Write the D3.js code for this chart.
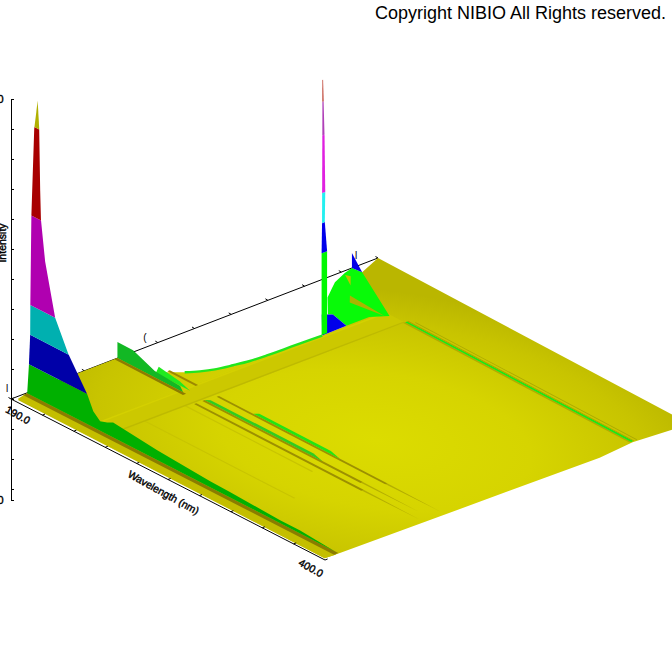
<!DOCTYPE html>
<html><head><meta charset="utf-8">
<style>html,body{margin:0;padding:0;background:#fff}svg{display:block}text{font-family:"Liberation Sans",Arial,sans-serif;fill:#000}</style>
<script src="https://cdn.jsdelivr.net/npm/d3@7/dist/d3.min.js"></script>
</head><body><div id="c"></div>
<script>
// ---------- data (wavelength nm, excitation nm, intensity in thousands) ----------
const wavelengthTicks = [190,211,232,253,274,295,316,337,358,379,400];
const excitationTicks = [200,240,280,320,360,400,440,480,520,560,600];
const intensityTicks  = [-3,-2,-1,0,1,2,3,4,5,6,7,8,9,10];
const intensityEnds   = [-3.367,10];

// surface outline
const plateW = [192.8,190,190,211.7,219.7,223.3,226.1,228.2,229.8,230.5,230.8,231,231.4,231,196,190,400,397.6,400,399,398.5];
const plateE = [203,218,316,323.8,341,351.8,363.6,380,395.7,413,432,448,472,499,573,600,600,541,501,218,202];
// rim of the masked region
const rimW = [219.7,223.3,226.1,228.2,229.8,230.5,230.8,231,231.4];
const rimE = [341,351.8,363.6,380,395.7,413,432,448,472];

// main emission sheet
const mainE = 217;
const mainW = [190.4,191.5,192.4,192.5,193.2,195.1,197.4,198.4,199.1,199.6,202.4,209.1,217.8,230.5,234.6,239.2,243.9,247.9,277.4,312.8,326,359.6,373,396.4];
const mainZ = [0,.93,2,3,6,8.93,9.93,9.07,6.97,6.03,4.7,3,2.03,1,.53,.32,.4,.5,.33,.2,.18,.1,.1,0];
const mainEdges  = [-1,1,2,3,6,9,11];
const mainColors = ["#00b000","#0000a8","#00b0b0","#b000b0","#a80000","#b0b000"];

// sheet at excitation 316
const secondE = 316;
const secondW = [190,200.5,215.2,232,234];
const secondZ = [.54,.53,.21,.15,0];
const secondFootW = [190,236];
// brighter sheet behind
const thirdE = 322;
const thirdW = [212,214,228,235];
const thirdZ = [0,.26,.14,0];

// thin ridges along the wavelength direction
const ridgeE      = [334,320,311];
const ridgeStart  = [247,246,246];
const ridgeDark   = [360,352,358];
const ridgeEnd    = [396,390,396];
const ridgeGreenA = [270,246,0];
const ridgeGreenB = [328,325,0];
const ridgeGreenC = ["#22e414","#30cc20",""];
const minorW = [214,233];
const minorE = 334;

// faint ridges
const faintE = [256,300];
const faintA = [240,240];
const faintB = [345,330];

// far long ridge
const farE = 541.6, farA = 245, farB = 397;

// cross band
const crossA = 232, crossB = 245, crossE1 = 218, crossE2 = 540;

// narrow spike
const spikeW = 231, spikeE = 472;
const spikeDe = [0,0,.5,.8,.9,1.6,2.2,3.2,4,3.5,6,6];
const spikeZ  = [0,2.73,3.73,6.7,8.5,8.5,7.77,6.6,4.73,3.73,2.73,0];
const spikeEdges  = [0,2.73,3.73,4.73,6.65,7.77,9];
const spikeColors = ["#00f800","#0000ea","#22f0f0","#e020e0","#b040b8","#b83020"];

// flat facets beside the spike
const footBlueW=[215.7,218.9,231,231.4], footBlueE=[497,504,499,472];
const backGreenW=[204.8,199.2,195.6,191.7,190,196,236,231,231,218.9,217.4];
const backGreenE=[521,534.9,544,561,571.6,573,538,524,499,504,501];
const backStripeW=[209.6,214.8,234.5], backStripeE=[537.6,529,535];
const backNotchW=[193.2,195.7,202.4], backNotchE=[559,561,550];
const tipW=[190,196,190], tipE=[571.6,573,571.6], tipZ=[.5,0,0];

const titleText = "Copyright NIBIO All Rights reserved.";
const xLabel = "Wavelength (nm)", zLabel = "Intensity";
const xEndLabels = ["190.0","400.0"];
const zEndLabels = ["10000.0","-3367.0"];

// ---------- projection ----------
const W=672,H=672;
const svg=d3.select("#c").append("svg").attr("width",W).attr("height",H);
const uS=d3.scaleLinear().domain([190,400]).range([0,1]);
const vS=d3.scaleLinear().domain([200,600]).range([0,1]);
const zAxisS=d3.scaleLinear().domain([-3.367,10]).range([500,99]);
const hS=v=>zAxisS(0)-zAxisS(v);
const O=[11,399],Wc=[325,560],Vc=[378,258],Fc=[690,424];
function P(w,e,z=0){
  const u=uS(w),v=vS(e);
  const x=(1-u)*(1-v)*O[0]+u*(1-v)*Wc[0]+(1-u)*v*Vc[0]+u*v*Fc[0];
  const y=(1-u)*(1-v)*O[1]+u*(1-v)*Wc[1]+(1-u)*v*Vc[1]+u*v*Fc[1];
  return [x,y-hS(z)];
}
const line=d3.line();
const poly=pts=>line(pts)+"Z";
function fill(g,pts,c){return g.append("path").attr("d",poly(pts)).attr("fill",c);}
function clipZ(pts,lo,hi){ // pts [t,z]
  const clip=(arr,inside,cross)=>{const o=[];arr.forEach((p,i)=>{const q=arr[(i+1)%arr.length];
    const a=inside(p),b=inside(q);if(a)o.push(p);if(a!==b)o.push(cross(p,q));});return o;};
  const at=l=>(p,q)=>[p[0]+(q[0]-p[0])*(l-p[1])/(q[1]-p[1]),l];
  let r=clip(pts,p=>p[1]>=lo,at(lo));
  if(r.length) r=clip(r,p=>p[1]<=hi,at(hi));
  return r;
}
function banded(g,pts,edges,colors,toXY){
  colors.forEach((c,i)=>{
    const r=clipZ(pts,edges[i],edges[i+1]);
    if(r.length>2) fill(g,r.map(toXY),c);
  });
}
function strip(g,w1,w2,e1,e2,c){fill(g,[P(w1,e1),P(w2,e1),P(w2,e2),P(w1,e2)],c);}
function sheet(g,ws,zs,e,c){fill(g,ws.map((w,i)=>P(w,e,zs[i])).concat([P(ws[ws.length-1],e),P(ws[0],e)]),c);}

// gradient
const defs=svg.append("defs");
const grad=defs.append("radialGradient").attr("id","plate").attr("gradientUnits","userSpaceOnUse")
  .attr("cx",0).attr("cy",0).attr("r",1).attr("gradientTransform","translate(375,440) rotate(8) scale(350,150)");
[[0,"#dcdc00"],[.45,"#d6d400"],[.8,"#c8c400"],[1,"#bab600"]].forEach(s=>grad.append("stop").attr("offset",s[0]).attr("stop-color",s[1]));

// ---------- back axis (behind the surface) ----------
const axesBack=svg.append("g").attr("stroke","#000").attr("stroke-width",1).attr("fill","none");
axesBack.append("path").attr("d",line([P(190,200),P(190,600)]));
excitationTicks.forEach(e=>{const a=P(190,e);axesBack.append("path").attr("d",line([a,[a[0]-2.5,a[1]-1.5]]));});

// ---------- surface ----------
const s=svg.append("g");
fill(s,plateW.map((w,i)=>P(w,plateE[i])),"url(#plate)");
// front strip
fill(s,[P(192,204),P(398.5,202),P(399,214),P(190.6,214)],"#c4be00");
// faint ridges
faintE.forEach((e,i)=>strip(s,faintA[i],faintB[i],e,e+1.6,"#c8c400"));
// cross band
strip(s,crossA,crossB,crossE1,crossE2,"#ccc800");
strip(s,crossA,crossA+1.2,crossE1,crossE2,"#d4d000");
strip(s,crossB-1,crossB,crossE1,crossE2,"#bebA00");
// thin ridges
ridgeE.forEach((e,i)=>{
  fill(s,[P(ridgeDark[i],e-2.2),P(ridgeEnd[i],e-.9),P(ridgeDark[i],e)],"#b4ae00");
  strip(s,ridgeStart[i],ridgeDark[i],e-2.6,e,"#9c9000");
  if(ridgeGreenA[i]){
    const a=ridgeGreenA[i],b=ridgeGreenB[i];
    sheet(s,[a,a+4,b-6,b],[0,.1,.1,0],e,ridgeGreenC[i]);
  }
});
// far ridge
strip(s,farA+3,farB,farE+4.6,farE+5.6,"#aca800");
strip(s,farA,farB,farE-3.2,farE-1.2,"#b0ac00");
strip(s,farA,farB,farE-1.2,farE+1.2,"#18e818");
strip(s,farA,farB,farE+1.2,farE+2.4,"#a8a400");

// facets at the back
const pairs=(a,b)=>a.map((w,i)=>P(w,b[i]));
fill(s,pairs(backGreenW,backGreenE),"#08fa08");
fill(s,pairs(backStripeW,backStripeE),"#aab400");
fill(s,pairs(backNotchW,backNotchE),"#c0c000");
fill(s,tipW.map((w,i)=>P(w,tipE[i],tipZ[i])),"#0000e8");
fill(s,pairs(footBlueW,footBlueE),"#0000ea");
// rim of the masked area
s.append("path").attr("d",d3.line().curve(d3.curveCatmullRom)(rimW.map((w,i)=>P(w,rimE[i])))).attr("fill","none").attr("stroke","#22e61e").attr("stroke-width",2.4);

// narrow spike
banded(s,spikeDe.map((d,i)=>[spikeE+d,spikeZ[i]]),spikeEdges,spikeColors,p=>P(spikeW,p[0],p[1]));

// second group
strip(s,minorW[0],minorW[1],minorE-2.6,minorE,"#9c8800");
sheet(s,thirdW,thirdZ,thirdE,"#20ea20");
sheet(s,secondW,secondZ,secondE,"#12b824");
strip(s,secondFootW[0],secondFootW[1],secondE-3.4,secondE,"#8c7c00");

// main sheet
strip(s,190.4,398.5,mainE-4.6,mainE,"#8a7c00");
banded(s,mainW.map((w,i)=>[w,mainZ[i]]),mainEdges,mainColors,p=>P(p[0],mainE,p[1]));

// ---------- front axes ----------
const ax=svg.append("g").attr("stroke","#000").attr("stroke-width",1).attr("fill","none");
ax.append("path").attr("d",line([P(190,200),P(400,200)]));
wavelengthTicks.forEach(w=>{const a=P(w,200);ax.append("path").attr("d",line([a,[a[0]+2.6,a[1]-1]]));});
svg.append("g").attr("transform","translate(11,0)")
  .call(d3.axisRight(zAxisS).tickValues(intensityTicks.concat(intensityEnds)).tickSizeInner(3).tickSizeOuter(0).tickFormat(""))
  .call(g=>g.selectAll("path,line").attr("stroke","#000"));

// ---------- text ----------
const T=svg.append("g").attr("stroke","#000").attr("stroke-width",.4);
T.append("text").attr("x",375).attr("y",19).attr("font-size",18).attr("stroke","none").text(titleText);
T.append("text").attr("transform","translate(163.5,492.5) rotate(29)").attr("text-anchor","middle").attr("dy","0.35em").attr("font-size",10.5).text(xLabel);
T.append("text").attr("transform","translate(18,415) rotate(29)").attr("text-anchor","middle").attr("dy","0.35em").attr("font-size",10.5).text(xEndLabels[0]);
T.append("text").attr("transform","translate(311,568) rotate(29)").attr("text-anchor","middle").attr("dy","0.35em").attr("font-size",10.5).text(xEndLabels[1]);
T.append("text").attr("transform","translate(5.5,243) rotate(-90)").attr("text-anchor","middle").attr("font-size",10.5).text(zLabel);
T.append("text").attr("x",3.5).attr("y",103).attr("text-anchor","end").attr("font-size",11).text(zEndLabels[0]);
T.append("text").attr("x",3.5).attr("y",504).attr("text-anchor","end").attr("font-size",11).text(zEndLabels[1]);
[[145,341,"("],[356,259,"l"],[7,392,"l"]].forEach(d=>T.append("text").attr("x",d[0]).attr("y",d[1]).attr("text-anchor","middle").attr("font-size",10).attr("stroke","none").text(d[2]));
</script>
</body></html>
